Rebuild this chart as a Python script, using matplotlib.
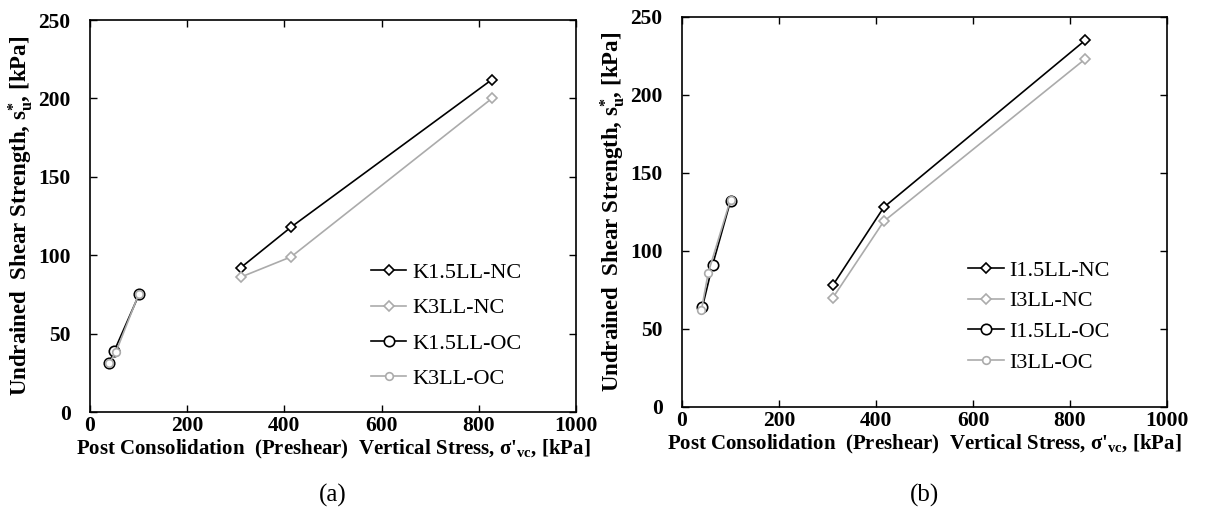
import matplotlib
matplotlib.use("Agg")
import matplotlib.pyplot as plt

plt.rcParams['font.family'] = ['Liberation Serif', 'DejaVu Serif']
plt.rcParams['mathtext.fontset'] = 'custom'
plt.rcParams['mathtext.rm'] = 'Liberation Serif:bold'
plt.rcParams['mathtext.it'] = 'Liberation Serif:bold'
plt.rcParams['mathtext.bf'] = 'Liberation Serif:bold'

# ---- data: panel (a)
a_nc_x = [310, 414, 827]
k15_nc_y = [92, 118, 212]
k3_nc_y = [86, 99, 200]
k15_oc_x = [39, 50, 101]
k15_oc_y = [31, 39, 75]
k3_oc_x = [39, 53, 100]
k3_oc_y = [31, 38, 75]

# ---- data: panel (b)
b_nc_x = [311, 416, 831]
i15_nc_y = [78, 128, 235]
i3_nc_y = [70, 119, 223]
i15_oc_x = [42, 63, 100]
i15_oc_y = [64, 91, 132]
i3_oc_x = [40, 54, 100]
i3_oc_y = [62, 86, 133]

labels_a = ['K1.5LL-NC', 'K3LL-NC', 'K1.5LL-OC', 'K3LL-OC']
labels_b = ['I1.5LL-NC', 'I3LL-NC', 'I1.5LL-OC', 'I3LL-OC']
x_ticks = [0, 200, 400, 600, 800, 1000]
y_ticks = [0, 50, 100, 150, 200, 250]

BLACK = '#000000'
GRAY = '#ababab'

fig = plt.figure(figsize=(12.06, 5.16), dpi=100)
ax1 = fig.add_axes([90/1206, 1-412/516, (576-90)/1206, (412-20)/516])
ax2 = fig.add_axes([682/1206, 1-407/516, (1167-682)/1206, (407-17)/516])

ylabel = r"Undrained  Shear Strength, $\mathrm{s}^{*}_{\mathrm{u}}$, [kPa]"
xlabel = r"Post Consolidation  (Preshear)  Vertical Stress, σ'$_{\mathrm{vc}}$, [kPa]"


def draw(ax, ncx, y1, y2, ocx1, oy1, ocx2, oy2, labels, tag, legend_anchor,
         lspace, tag_y):
    ax.plot(ncx, y1, color=BLACK, lw=1.2, marker='D', ms=5.5, mfc='white',
            mec=BLACK, mew=1.2, label=labels[0])
    ax.plot(ncx, y2, color=GRAY, lw=1.2, marker='D', ms=5.5, mfc='white',
            mec=GRAY, mew=1.2, label=labels[1])
    ax.plot(ocx1, oy1, color=BLACK, lw=1.2, marker='o', ms=7.5, mfc='white',
            mec=BLACK, mew=1.2, label=labels[2])
    ax.plot(ocx2, oy2, color=GRAY, lw=1.2, marker='o', ms=5.5, mfc='white',
            mec=GRAY, mew=1.2, label=labels[3])
    ax.set_xlim(0, 1000)
    ax.set_ylim(0, 250)
    ax.set_xticks(x_ticks)
    ax.set_yticks(y_ticks)
    ax.tick_params(direction='in', top=True, right=True, length=5, width=1,
                   labelsize=15.5)
    ax.tick_params(axis='x', pad=3)
    ax.tick_params(axis='y', pad=14)
    for lab in ax.get_xticklabels() + ax.get_yticklabels():
        lab.set_fontweight('bold')
    for s in ax.spines.values():
        s.set_linewidth(1.2)
    ax.set_ylabel(ylabel, fontsize=16.5, fontweight='bold', labelpad=2)
    ax.set_xlabel(xlabel, fontsize=15, fontweight='bold', labelpad=1)
    ax.legend(loc='center left', bbox_to_anchor=legend_anchor, frameon=False,
              fontsize=16, handlelength=1.6, handletextpad=0.25,
              labelspacing=lspace, borderaxespad=0, borderpad=0)
    ax.text(0.5, tag_y, tag, transform=ax.transAxes, ha='center', va='top',
            fontsize=18)


draw(ax1, a_nc_x, k15_nc_y, k3_nc_y, k15_oc_x, k15_oc_y, k3_oc_x, k3_oc_y,
     labels_a, '(a)', (0.578, 0.22), 0.66, -0.183)
draw(ax2, b_nc_x, i15_nc_y, i3_nc_y, i15_oc_x, i15_oc_y, i3_oc_x, i3_oc_y,
     labels_b, '(b)', (0.59, 0.232), 0.46, -0.196)

fig.savefig('out.png', dpi=100)
